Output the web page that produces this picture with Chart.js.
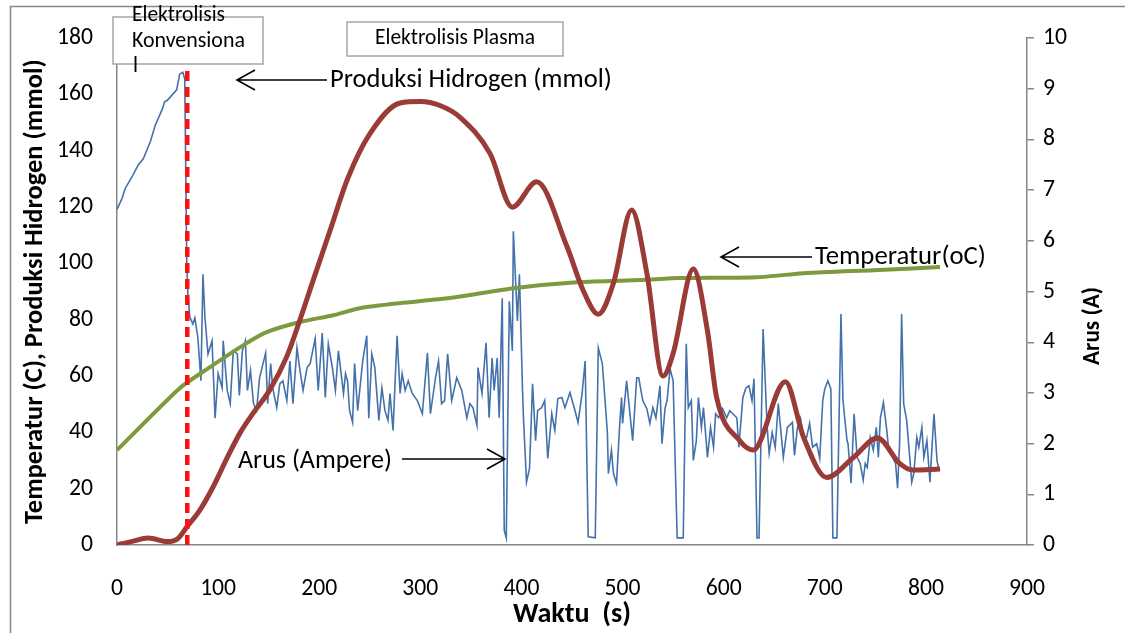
<!DOCTYPE html>
<html>
<head>
<meta charset="utf-8">
<title>Arus, Temperatur dan Produksi Hidrogen</title>
<script src="https://cdn.jsdelivr.net/npm/chart.js@4/dist/chart.umd.min.js"></script>
<style>
  html, body { margin: 0; padding: 0; background: #fff; }
</style>
</head>
<body>
<canvas id="chart" width="1125" height="633"></canvas>
<script>
/* DATA */
// Arus (A), right axis
const arusTime = [
  0, 5, 8, 16, 21, 26, 33, 38, 45, 47, 50, 59, 62, 65, 67, 69, 70, 72, 75, 77,
  80, 83, 85, 87, 90, 94, 97, 100, 104, 105, 109, 112, 115, 119, 121, 124, 127, 129, 132, 135,
  138, 141, 147, 149, 152, 154, 158, 161, 164, 168, 171, 174, 178, 181, 184, 188, 191, 196, 199, 203,
  206, 209, 213, 216, 219, 224, 226, 228, 230, 233, 235, 238, 243, 247, 249, 252, 255, 259, 262, 265,
  268, 270, 273, 277, 280, 282, 285, 288, 292, 297, 302, 307, 310, 315, 318, 321, 324, 327, 331, 336,
  341, 346, 349, 352, 356, 357, 361, 365, 368, 371, 373, 376, 378, 381, 383, 385, 388, 391, 392, 396,
  398, 401, 402, 405, 408, 411, 414, 416, 420, 423, 426, 430, 433, 436, 440, 443, 448, 453, 456, 460,
  463, 466, 473, 476, 480, 485, 486, 489, 491, 494, 497, 499, 500, 504, 507, 510, 514, 516, 520, 524,
  527, 530, 533, 537, 539, 542, 544, 547, 550, 554, 560, 563, 565, 568, 570, 573, 575, 578, 580, 584,
  587, 590, 592, 595, 599, 603, 606, 609, 613, 615, 619, 622, 625, 628, 630, 633, 635, 639, 643, 645,
  648, 651, 654, 659, 663, 668, 670, 673, 676, 679, 682, 685, 688, 692, 695, 698, 700, 703, 706, 708,
  712, 716, 718, 722, 723, 726, 729, 732, 735, 738, 740, 742, 745, 748, 751, 753, 755, 758, 761, 763,
  767, 770, 772, 774, 776, 778, 781, 784, 786, 788, 791, 793, 796, 798, 801, 804, 808, 811, 813
];
const arusValue = [
  6.62, 6.84, 7.03, 7.31, 7.50, 7.62, 7.96, 8.29, 8.61, 8.74, 8.78, 8.98, 9.29, 9.33, 9.20, 5.60, 5.00, 4.50, 4.36, 4.48,
  4.09, 3.24, 5.34, 4.48, 3.77, 4.03, 2.50, 3.38, 3.10, 4.03, 3.05, 2.79, 3.83, 3.77, 2.95, 3.83, 4.03, 3.05, 3.44, 2.79,
  2.65, 3.30, 3.79, 2.79, 3.58, 3.10, 2.71, 3.18, 3.24, 2.85, 3.63, 2.79, 3.89, 3.44, 3.05, 3.50, 3.58, 4.07, 3.05, 4.18,
  2.91, 3.97, 3.50, 3.05, 3.83, 2.99, 3.38, 3.24, 2.65, 2.42, 3.58, 2.65, 3.63, 4.13, 2.50, 3.77, 3.50, 2.46, 3.10, 2.65,
  2.46, 2.99, 2.26, 4.13, 2.99, 3.38, 3.05, 3.24, 2.99, 2.85, 2.59, 3.79, 2.59, 3.30, 3.63, 2.79, 2.85, 3.77, 2.85, 3.30,
  3.05, 2.51, 2.79, 2.71, 2.36, 3.50, 2.99, 3.99, 2.51, 3.69, 3.05, 3.69, 2.51, 4.87, 0.29, 0.14, 4.81, 3.83, 6.19, 4.42,
  5.34, 3.10, 2.51, 1.24, 1.51, 3.18, 2.06, 2.65, 2.71, 2.85, 1.71, 2.59, 2.26, 2.89, 2.91, 2.71, 3.01, 2.65, 2.42, 2.99,
  3.63, 0.16, 0.14, 3.89, 3.58, 2.22, 1.41, 1.87, 1.41, 1.22, 2.32, 2.91, 2.40, 3.24, 2.65, 2.06, 3.30, 3.30, 2.85, 2.69,
  2.40, 2.71, 2.51, 3.14, 2.00, 2.69, 2.85, 3.48, 3.24, 0.14, 0.14, 3.97, 2.71, 2.85, 1.67, 2.06, 2.91, 2.32, 2.71, 1.73,
  2.32, 1.93, 2.59, 2.51, 2.69, 2.51, 2.65, 2.59, 2.51, 1.93, 2.91, 3.10, 3.14, 2.85, 3.28, 0.14, 0.14, 4.26, 2.32, 1.81,
  2.22, 1.93, 2.79, 1.73, 2.32, 2.42, 1.77, 2.32, 2.50, 2.12, 2.12, 2.40, 1.93, 2.00, 1.71, 2.85, 3.08, 3.24, 3.08, 0.14,
  0.14, 4.56, 2.85, 2.06, 2.00, 1.22, 2.59, 1.73, 1.61, 1.28, 1.61, 1.53, 2.12, 1.87, 2.32, 1.73, 2.51, 2.81, 2.32, 1.93,
  1.73, 1.61, 1.12, 2.00, 4.56, 2.79, 2.46, 1.73, 1.24, 1.41, 2.12, 1.93, 2.32, 1.73, 2.06, 1.24, 2.59, 1.67, 1.47
];

// Temperatur (oC), left axis
const tempTime = [0, 62, 92, 125, 148, 181, 214, 240, 280, 329, 392, 458, 517, 557, 633, 682, 748, 814];
const tempValue = [33.7, 55.7, 63.2, 71, 75.6, 79.2, 81.6, 84.1, 85.9, 87.7, 91.2, 93.4, 94.1, 94.8, 95.1, 96.6, 97.6, 98.7];

// Produksi Hidrogen (mmol), left axis
const h2Time = [0, 15, 31, 50, 60, 69, 82, 95, 109, 122, 135, 151, 168, 181, 194, 211, 228, 250, 280, 300,
  320, 339, 369, 391, 415, 445, 461, 476, 491, 509, 524, 540, 550, 570, 584, 593, 616, 629, 661, 679,
  702, 728, 752, 774, 787, 814];
const h2Value = [0, 1.3, 2.5, 1.2, 2.2, 6.4, 12.4, 20.6, 31, 40, 47, 55, 67, 80, 94, 112, 130, 146, 157, 157.5,
  156, 152, 139, 120, 129, 106, 90.5, 82, 93, 119, 96.6, 60, 68, 98, 76, 52.5, 37, 33.7, 58, 38.3,
  24, 31, 38, 29, 26.6, 27];

// batas elektrolisis konvensional / plasma
const batasTime = [69.5, 69.5];
const batasValue = [0, 169];

// ticks
const xTicks = [0, 100, 200, 300, 400, 500, 600, 700, 800, 900];
const leftTicks = [0, 20, 40, 60, 80, 100, 120, 140, 160, 180];
const rightTicks = [0, 1, 2, 3, 4, 5, 6, 7, 8, 9, 10];

/* HELPERS */
const FAMILY = "Carlito, Lato, sans-serif";
const measure = document.createElement("canvas").getContext("2d");

// font size that makes a text span the given width
function fitSize(text, width, weight) {
  measure.font = `${weight || "normal"} 100px ${FAMILY}`;
  return 100 * width / measure.measureText(text).width;
}

function toPoints(xs, ys) {
  return xs.map((x, i) => ({ x: x, y: ys[i] }));
}

const tickSize = fitSize("180", 36);
const leftTitleSize = fitSize("Temperatur (C), Produksi Hidrogen (mmol)", 465, "bold");
const xTitleSize = fitSize("Waktu  (s)", 118, "bold");
const rightTitleSize = fitSize("Arus (A)", 78, "bold");

/* ANNOTATIONS */
function arrow(ctx, x1, x2, y) {
  // line from x1 to the head at x2
  const dir = x2 > x1 ? -1 : 1;
  ctx.beginPath();
  ctx.moveTo(x1, y);
  ctx.lineTo(x2, y);
  ctx.moveTo(x2 + dir * 18, y - 10);
  ctx.lineTo(x2, y);
  ctx.lineTo(x2 + dir * 18, y + 10);
  ctx.stroke();
}

function label(ctx, text, x, y, width, align) {
  ctx.font = `${fitSize(text, width)}px ${FAMILY}`;
  ctx.textAlign = align || "left";
  ctx.textBaseline = "middle";
  ctx.fillText(text, x, y);
}

const notes = {
  id: "notes",
  beforeDraw(chart) {
    const ctx = chart.ctx;
    ctx.save();
    ctx.fillStyle = "#fff";
    ctx.fillRect(0, 0, chart.width, chart.height);
    ctx.strokeStyle = "#868686";
    ctx.lineWidth = 1.5;
    ctx.beginPath();
    ctx.moveTo(10.5, chart.height);
    ctx.lineTo(10.5, 6.5);
    ctx.lineTo(chart.width, 6.5);
    ctx.stroke();
    ctx.restore();
  },
  afterDraw(chart) {
    const ctx = chart.ctx;
    ctx.save();

    // boxes
    ctx.fillStyle = "#fff";
    ctx.strokeStyle = "#a6a6a6";
    ctx.lineWidth = 1.5;
    ctx.fillRect(113, 17, 150, 47);
    ctx.strokeRect(113, 17, 150, 47);
    ctx.fillRect(347, 22, 216, 34);
    ctx.strokeRect(347, 22, 216, 34);

    ctx.fillStyle = "#000";
    label(ctx, "Elektrolisis", 132, 16, 93);
    label(ctx, "Konvensiona", 132, 42, 113);
    ctx.fillText("l", 133, 67);
    label(ctx, "Elektrolisis Plasma", 455, 39, 160, "center");

    label(ctx, "Produksi Hidrogen (mmol)", 330, 80, 282);
    label(ctx, "Temperatur(oC)", 815, 257, 171);
    label(ctx, "Arus (Ampere)", 238, 461, 154);

    ctx.strokeStyle = "#000";
    ctx.lineWidth = 1.6;
    arrow(ctx, 327, 237, 80);
    arrow(ctx, 812, 721, 257);
    arrow(ctx, 402, 505, 459);

    // right axis title, read bottom to top
    ctx.translate(1093, 326);
    ctx.rotate(-Math.PI / 2);
    ctx.font = `bold ${rightTitleSize}px ${FAMILY}`;
    ctx.textAlign = "center";
    ctx.textBaseline = "middle";
    ctx.fillText("Arus (A)", 0, 0);
    ctx.restore();
  }
};

/* RENDER CHART */
const axisGray = "#868686";

new Chart(document.getElementById("chart"), {
  type: "line",
  data: {
    datasets: [
      {
        label: "Batas",
        data: toPoints(batasTime, batasValue),
        yAxisID: "y",
        borderColor: "#ff1010",
        borderWidth: 4.5,
        borderDash: [10, 6],
        pointRadius: 0,
        order: 1
      },
      {
        label: "Produksi Hidrogen (mmol)",
        data: toPoints(h2Time, h2Value),
        yAxisID: "y",
        borderColor: "#9a3b38",
        borderWidth: 5,
        cubicInterpolationMode: "monotone",
        pointRadius: 0,
        order: 2
      },
      {
        label: "Temperatur(oC)",
        data: toPoints(tempTime, tempValue),
        yAxisID: "y",
        borderColor: "#7d9a3f",
        borderWidth: 4,
        tension: 0.2,
        pointRadius: 0,
        order: 3
      },
      {
        label: "Arus (Ampere)",
        data: toPoints(arusTime, arusValue),
        yAxisID: "y1",
        borderColor: "#4471ac",
        borderWidth: 1.6,
        tension: 0,
        pointRadius: 0,
        order: 4
      }
    ]
  },
  options: {
    responsive: false,
    animation: false,
    layout: { padding: { top: 37 } },
    plugins: {
      legend: { display: false },
      tooltip: { enabled: false }
    },
    scales: {
      x: {
        type: "linear",
        min: 0,
        max: 900,
        afterBuildTicks: s => { s.ticks = xTicks.map(v => ({ value: v })); },
        afterFit: s => { s.height = 88; },
        grid: { display: false, drawTicks: false },
        border: { color: axisGray, width: 1.5 },
        ticks: { color: "#000", padding: 30, font: { family: FAMILY, size: tickSize } },
        title: {
          display: true,
          text: "Waktu  (s)",
          color: "#000",
          padding: { top: 0, bottom: 18 - xTitleSize / 2 },
          font: { family: FAMILY, size: xTitleSize, weight: "bold", lineHeight: 1 }
        }
      },
      y: {
        position: "left",
        min: 0,
        max: 180,
        afterBuildTicks: s => { s.ticks = leftTicks.map(v => ({ value: v })); },
        afterFit: s => { s.width = 117; },
        grid: { display: false, drawTicks: false },
        border: { color: axisGray, width: 1.5 },
        ticks: { color: "#000", padding: 24, font: { family: FAMILY, size: tickSize } },
        title: {
          display: true,
          text: "Temperatur (C), Produksi Hidrogen (mmol)",
          color: "#000",
          padding: { top: 35 - leftTitleSize / 2, bottom: 0 },
          font: { family: FAMILY, size: leftTitleSize, weight: "bold", lineHeight: 1 }
        }
      },
      y1: {
        position: "right",
        min: 0,
        max: 10,
        afterBuildTicks: s => { s.ticks = rightTicks.map(v => ({ value: v })); },
        afterFit: s => { s.width = 98; },
        grid: { display: true, drawOnChartArea: false, drawTicks: true, tickLength: 7, color: axisGray, lineWidth: 1.5 },
        border: { color: axisGray, width: 1.5 },
        ticks: { color: "#000", padding: 9, font: { family: FAMILY, size: tickSize } }
      }
    }
  },
  plugins: [notes]
});
</script>
</body>
</html>
